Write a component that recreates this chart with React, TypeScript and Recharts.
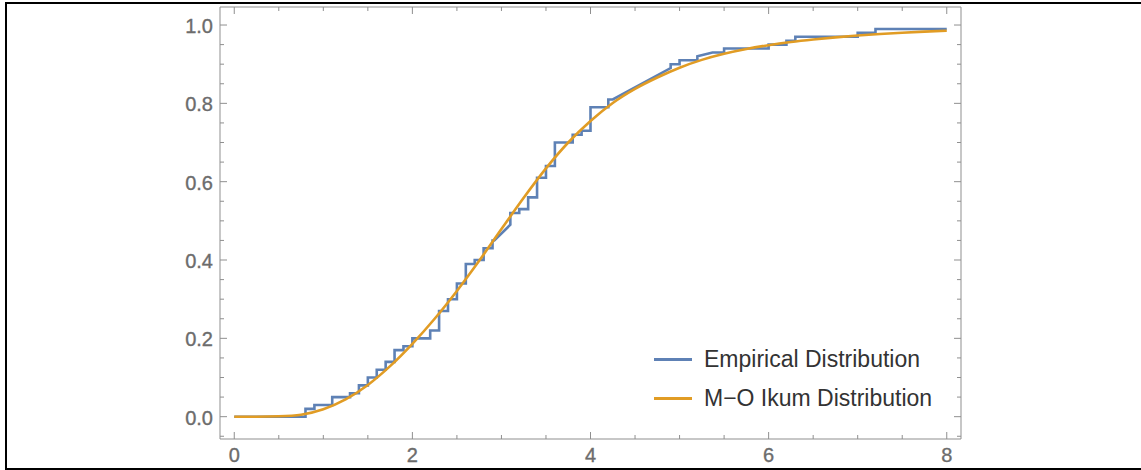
import React from "react";
import { LineChart, Line, XAxis, YAxis, Legend } from "recharts";

// Empirical CDF vertices (x, y)
const empX = [0, 0.8, 0.8, 0.9, 0.9, 1.1, 1.1, 1.3, 1.3, 1.4, 1.4, 1.5, 1.5, 1.6, 1.6, 1.7, 1.7, 1.8, 1.8, 1.9, 1.9, 2.0, 2.0, 2.2, 2.2, 2.3, 2.3, 2.4, 2.4, 2.5, 2.5, 2.6, 2.6, 2.7, 2.7, 2.8, 2.8, 2.9, 2.9, 2.92, 3.1, 3.1, 3.2, 3.2, 3.3, 3.3, 3.4, 3.4, 3.5, 3.5, 3.6, 3.6, 3.8, 3.8, 3.9, 3.9, 4.0, 4.0, 4.2, 4.2, 4.25, 4.9, 4.9, 5.0, 5.0, 5.2, 5.2, 5.37, 5.5, 5.5, 6.0, 6.0, 6.2, 6.2, 6.3, 6.3, 7.0, 7.0, 7.2, 7.2, 8.0];
const empY = [0, 0, 0.02, 0.02, 0.03, 0.03, 0.05, 0.05, 0.06, 0.06, 0.08, 0.08, 0.1, 0.1, 0.12, 0.12, 0.14, 0.14, 0.17, 0.17, 0.18, 0.18, 0.2, 0.2, 0.22, 0.22, 0.27, 0.27, 0.3, 0.3, 0.34, 0.34, 0.39, 0.39, 0.4, 0.4, 0.43, 0.43, 0.45, 0.45, 0.49, 0.52, 0.52, 0.53, 0.53, 0.56, 0.56, 0.61, 0.61, 0.64, 0.64, 0.7, 0.7, 0.72, 0.72, 0.73, 0.73, 0.79, 0.79, 0.81, 0.81, 0.89, 0.9, 0.9, 0.91, 0.91, 0.92, 0.93, 0.93, 0.94, 0.94, 0.95, 0.95, 0.96, 0.96, 0.97, 0.97, 0.98, 0.98, 0.99, 0.99];

// Fitted M-O Ikum CDF
const fitX = [0, 0.25, 0.5, 0.75, 1.0, 1.25, 1.5, 1.75, 2.0, 2.25, 2.5, 2.75, 3.0, 3.25, 3.5, 3.75, 4.0, 4.25, 4.5, 4.75, 5.0, 5.25, 5.5, 5.75, 6.0, 6.25, 6.5, 6.75, 7.0, 7.25, 7.5, 7.75, 8.0];
const fitY = [0, 0, 0.001, 0.005, 0.019, 0.044, 0.081, 0.129, 0.186, 0.25, 0.321, 0.398, 0.479, 0.559, 0.634, 0.7, 0.755, 0.801, 0.837, 0.866, 0.891, 0.911, 0.9265, 0.9387, 0.9485, 0.9565, 0.963, 0.9685, 0.9731, 0.977, 0.9803, 0.9831, 0.9855];

const xTicks = [0, 0.5, 1, 1.5, 2, 2.5, 3, 3.5, 4, 4.5, 5, 5.5, 6, 6.5, 7, 7.5, 8];
const yTicks = [-0.05, 0, 0.05, 0.1, 0.15, 0.2, 0.25, 0.3, 0.35, 0.4, 0.45, 0.5, 0.55, 0.6, 0.65, 0.7, 0.75, 0.8, 0.85, 0.9, 0.95, 1.0];

const seriesNames = ["Empirical Distribution", "M\u2212O Ikum Distribution"];
const seriesColors = ["#5E81B5", "#E19C24"];

const empData = empX.map((x, i) => ({ x, y: empY[i] }));
const fitData = fitX.map((x, i) => ({ x, y: fitY[i] }));

const FRAME = "#8f8f8f";
const LABEL = "#6c6c6c";
const FONT = "'Liberation Sans', Arial, sans-serif";

const isMult = (v: number, m: number) => Math.abs(v / m - Math.round(v / m)) < 1e-6;

const labelProps = {
  fill: LABEL,
  stroke: LABEL,
  strokeWidth: 0.35,
  fontSize: 20,
  fontFamily: FONT,
  dominantBaseline: "central" as const,
};

const BottomTick = (p: any) => {
  const { x, y, payload } = p;
  const v = payload.value;
  const major = isMult(v, 2);
  return (
    <g>
      <line x1={x} x2={x} y1={y} y2={y - (major ? 7 : 4)} stroke={FRAME} strokeWidth={1} />
      {major && (
        <text x={x} y={y + 16} textAnchor="middle" {...labelProps}>
          {String(v)}
        </text>
      )}
    </g>
  );
};

const TopTick = (p: any) => {
  const { x, y, payload } = p;
  const major = isMult(payload.value, 2);
  return <line x1={x} x2={x} y1={y} y2={y + (major ? 7 : 4)} stroke={FRAME} strokeWidth={1} />;
};

const LeftTick = (p: any) => {
  const { x, y, payload } = p;
  const v = payload.value;
  const major = isMult(v, 0.2);
  return (
    <g>
      <line x1={x} x2={x + (major ? 7 : 4)} y1={y} y2={y} stroke={FRAME} strokeWidth={1} />
      {major && (
        <text x={x - 7} y={y + 1} textAnchor="end" {...labelProps}>
          {v.toFixed(1)}
        </text>
      )}
    </g>
  );
};

const RightTick = (p: any) => {
  const { x, y, payload } = p;
  const major = isMult(payload.value, 0.2);
  return <line x1={x} x2={x - (major ? 7 : 4)} y1={y} y2={y} stroke={FRAME} strokeWidth={1} />;
};

const LegendContent = () => (
  <div style={{ fontFamily: FONT, fontSize: 23, color: "#333" }}>
    {seriesNames.map((n, i) => (
      <div key={n} style={{ display: "flex", alignItems: "center", height: 39 }}>
        <span style={{ display: "inline-block", width: 38, height: 2.5, background: seriesColors[i], marginRight: 12 }} />
        <span style={{ whiteSpace: "nowrap" }}>{n}</span>
      </div>
    ))}
  </div>
);

export default function App() {
  return (
    <div style={{ position: "absolute", left: 0, top: 0, width: 1141, height: 470, background: "#fff" }}>
      <div
        style={{
          position: "absolute",
          left: 5,
          top: 2,
          width: 1136,
          height: 468,
          boxSizing: "border-box",
          borderTop: "2px solid #000",
          borderLeft: "2px solid #000",
          borderBottom: "2px solid #000",
        }}
      />
      <div style={{ position: "absolute", left: 0, top: 0 }}>
        <LineChart width={1141} height={470} margin={{ top: 6, right: 0, bottom: 0, left: 0 }}>
          <XAxis
            xAxisId="b"
            dataKey="x"
            type="number"
            domain={[-0.16, 8.16]}
            allowDataOverflow
            ticks={xTicks}
            interval={0}
            height={31}
            tickSize={0}
            tickMargin={0}
            tickLine={false}
            axisLine={{ stroke: FRAME, strokeWidth: 1 }}
            tick={<BottomTick />}
          />
          <XAxis
            xAxisId="t"
            orientation="top"
            dataKey="x"
            type="number"
            domain={[-0.16, 8.16]}
            allowDataOverflow
            ticks={xTicks}
            interval={0}
            height={1}
            tickSize={0}
            tickMargin={0}
            tickLine={false}
            axisLine={{ stroke: FRAME, strokeWidth: 1 }}
            tick={<TopTick />}
          />
          <YAxis
            yAxisId="l"
            type="number"
            domain={[-0.057, 1.046]}
            allowDataOverflow
            ticks={yTicks}
            interval={0}
            width={220}
            tickSize={0}
            tickMargin={0}
            tickLine={false}
            axisLine={{ stroke: FRAME, strokeWidth: 1 }}
            tick={<LeftTick />}
          />
          <YAxis
            yAxisId="r"
            orientation="right"
            type="number"
            domain={[-0.057, 1.046]}
            allowDataOverflow
            ticks={yTicks}
            interval={0}
            width={180}
            tickSize={0}
            tickMargin={0}
            tickLine={false}
            axisLine={{ stroke: FRAME, strokeWidth: 1 }}
            tick={<RightTick />}
          />
          <Line
            xAxisId="b"
            yAxisId="l"
            data={empData}
            dataKey="y"
            type="linear"
            stroke={seriesColors[0]}
            strokeWidth={2.6}
            dot={false}
            isAnimationActive={false}
            name={seriesNames[0]}
          />
          <Line
            xAxisId="b"
            yAxisId="l"
            data={fitData}
            dataKey="y"
            type="monotone"
            stroke={seriesColors[1]}
            strokeWidth={2.6}
            dot={false}
            isAnimationActive={false}
            name={seriesNames[1]}
          />
          <Legend
            layout="vertical"
            align="center"
            verticalAlign="middle"
            content={<LegendContent />}
            wrapperStyle={{ left: 654, top: 340, width: 320, height: 78 }}
          />
        </LineChart>
      </div>
    </div>
  );
}
